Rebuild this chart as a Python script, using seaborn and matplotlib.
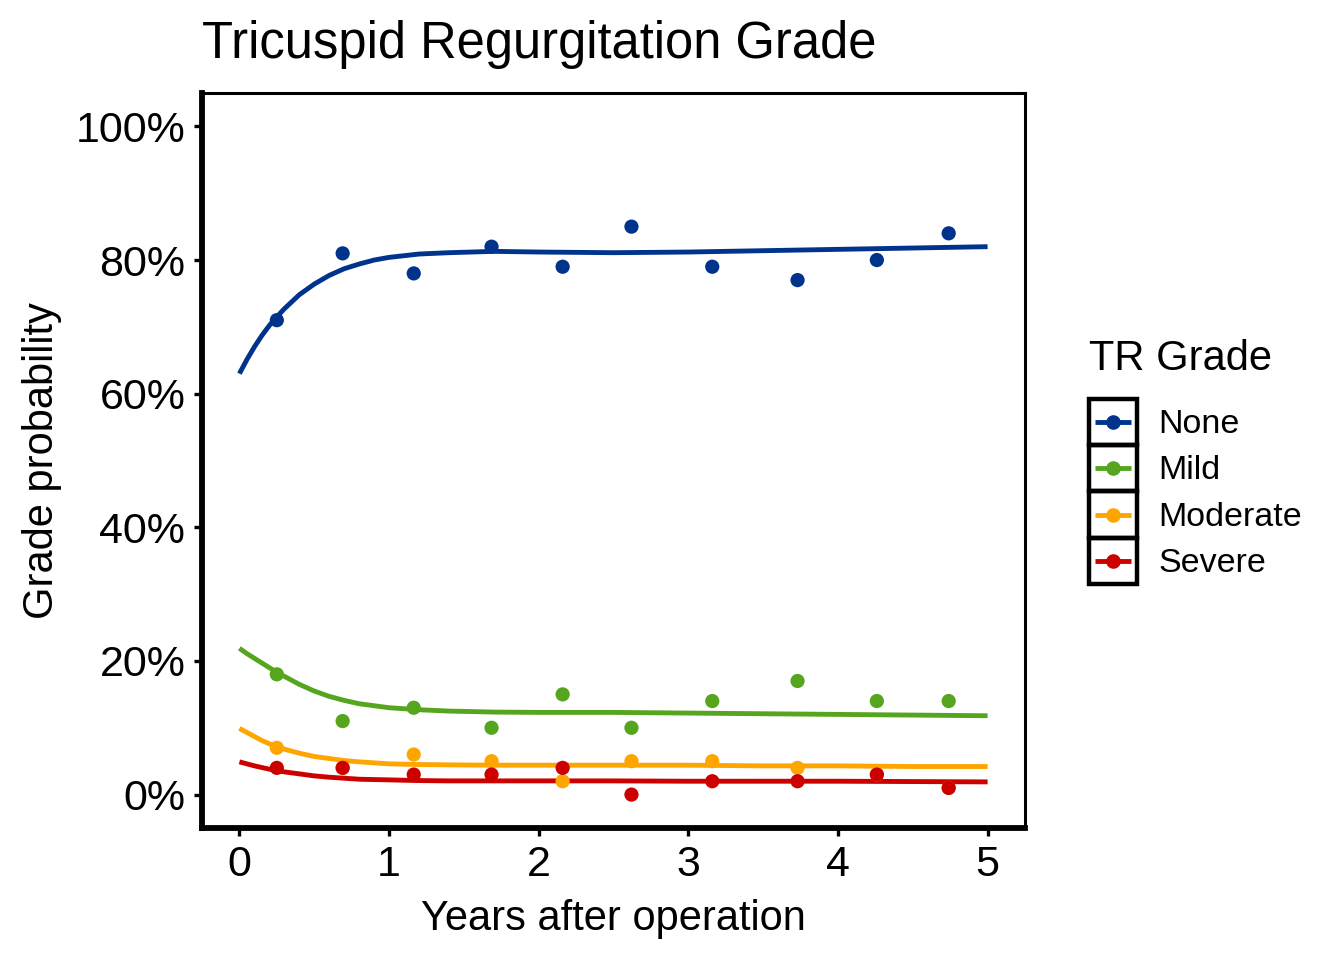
import pandas as pd
import matplotlib
matplotlib.use('Agg')
import matplotlib.pyplot as plt
import seaborn as sns
from matplotlib.ticker import PercentFormatter
from matplotlib.lines import Line2D
from matplotlib.patches import Rectangle
from matplotlib.legend_handler import HandlerBase

# Grades and colours
grades = ['None', 'Mild', 'Moderate', 'Severe']
colors = ['#00338C', '#56A51F', '#FFA500', '#CD0000']

# Observed proportions (points), % per follow-up interval
obs_years = [0.25, 0.69, 1.165, 1.685, 2.16, 2.62, 3.16, 3.73, 4.26, 4.74]
obs_none = [71, 81, 78, 82, 79, 85, 79, 77, 80, 84]
obs_mild = [18, 11, 13, 10, 15, 10, 14, 17, 14, 14]
obs_moderate = [7, 4, 6, 5, 2, 5, 5, 4, 3, 1]
obs_severe = [4, 4, 3, 3, 4, 0, 2, 2, 3, 1]

# Fitted curves
fit_years = [0, 0.05, 0.1, 0.15, 0.2, 0.25, 0.3, 0.4, 0.5, 0.6, 0.7, 0.8, 0.9, 1.0,
             1.2, 1.4, 1.7, 2.0, 2.5, 3.0, 3.5, 4.0, 4.5, 5.0]
fit_none = [63.0, 65.1, 67.0, 68.7, 70.2, 71.5, 72.7, 74.8, 76.4, 77.7, 78.7, 79.4, 80.0, 80.4,
            80.9, 81.1, 81.3, 81.2, 81.1, 81.2, 81.4, 81.6, 81.8, 82.0]
fit_mild = [21.9, 21.1, 20.4, 19.7, 19.0, 18.3, 17.7, 16.5, 15.5, 14.7, 14.1, 13.6, 13.3, 13.0,
            12.7, 12.5, 12.35, 12.3, 12.3, 12.2, 12.1, 12.0, 11.9, 11.8]
fit_moderate = [9.9, 9.3, 8.7, 8.1, 7.6, 7.2, 6.8, 6.2, 5.7, 5.4, 5.1, 4.9, 4.75, 4.6,
                4.5, 4.45, 4.4, 4.4, 4.4, 4.4, 4.3, 4.3, 4.2, 4.2]
fit_severe = [4.9, 4.6, 4.3, 4.05, 3.8, 3.6, 3.4, 3.1, 2.8, 2.6, 2.45, 2.3, 2.25, 2.2,
              2.1, 2.05, 2.05, 2.05, 2.05, 2.0, 2.0, 2.0, 1.95, 1.9]

obs_vals = [obs_none, obs_mild, obs_moderate, obs_severe]
fit_vals = [fit_none, fit_mild, fit_moderate, fit_severe]

obs_df = pd.concat([pd.DataFrame({'years': obs_years, 'prob': v, 'grade': g})
                    for g, v in zip(grades, obs_vals)], ignore_index=True)
fit_df = pd.concat([pd.DataFrame({'years': fit_years, 'prob': v, 'grade': g})
                    for g, v in zip(grades, fit_vals)], ignore_index=True)

sns.set_style('white')
plt.rcParams['font.family'] = ['Liberation Sans', 'DejaVu Sans']
plt.rcParams['text.color'] = 'black'
plt.rcParams['axes.labelcolor'] = 'black'

fig = plt.figure(figsize=(13.44, 9.6), dpi=100)
ax = fig.add_axes([202 / 1344, 1 - 828 / 960, (1025 - 202) / 1344, (828 - 93) / 960])

palette = dict(zip(grades, colors))
sns.lineplot(data=fit_df, x='years', y='prob', hue='grade', palette=palette,
             legend=False, ax=ax, zorder=2)
for ln in ax.lines:
    ln.set_linewidth(3.5)
    ln.set_solid_capstyle('butt')
sns.scatterplot(data=obs_df, x='years', y='prob', hue='grade', palette=palette,
                s=105, linewidth=0, legend=False, ax=ax, zorder=3)

ax.set_xlim(-0.25, 5.25)
ax.set_ylim(-5, 105)
ax.set_xticks([0, 1, 2, 3, 4, 5])
ax.set_yticks([0, 20, 40, 60, 80, 100])
ax.yaxis.set_major_formatter(PercentFormatter(xmax=100, decimals=0))
ax.tick_params(axis='both', labelsize=31, length=6, width=2.4, pad=6, color='black',
               labelcolor='black', direction='out', bottom=True, left=True)

for side in ['left', 'bottom']:
    ax.spines[side].set_linewidth(4.2)
    ax.spines[side].set_color('black')
for side in ['top', 'right']:
    ax.spines[side].set_linewidth(2.2)
    ax.spines[side].set_color('black')

ax.set_xlabel('Years after operation', fontsize=30, labelpad=10)
ax.set_ylabel('Grade probability', fontsize=30, labelpad=10)
ax.set_title('Tricuspid Regurgitation Grade', fontsize=36.5, loc='left', pad=25)


class BoxedKey(HandlerBase):
    def create_artists(self, legend, orig_handle, xdescent, ydescent, width, height, fontsize, trans):
        c = orig_handle.get_color()
        box = Rectangle((-xdescent, -ydescent), width, height, fill=False,
                        edgecolor='black', linewidth=3.2, transform=trans)
        y = -ydescent + height / 2
        line = Line2D([-xdescent + width * 0.12, -xdescent + width * 0.88], [y, y],
                      color=c, linewidth=3.5, solid_capstyle='butt', transform=trans)
        dot = Line2D([-xdescent + width / 2], [y], marker='o', markersize=9.5,
                     color=c, linestyle='none', transform=trans)
        return [line, dot, box]


handles = [Line2D([], [], color=c) for c in colors]
leg = ax.legend(handles, grades, title='TR Grade', loc='center left',
                bbox_to_anchor=(1089 / 1344, 0.519), bbox_transform=fig.transFigure,
                frameon=False, fontsize=24.5, title_fontsize=30, handlelength=1.41,
                handleheight=1.72, labelspacing=0.0, handletextpad=0.63,
                borderpad=0, borderaxespad=0, alignment='left',
                handler_map={Line2D: BoxedKey()})
leg._legend_box.sep = 14

fig.savefig('out.png', dpi=100)
